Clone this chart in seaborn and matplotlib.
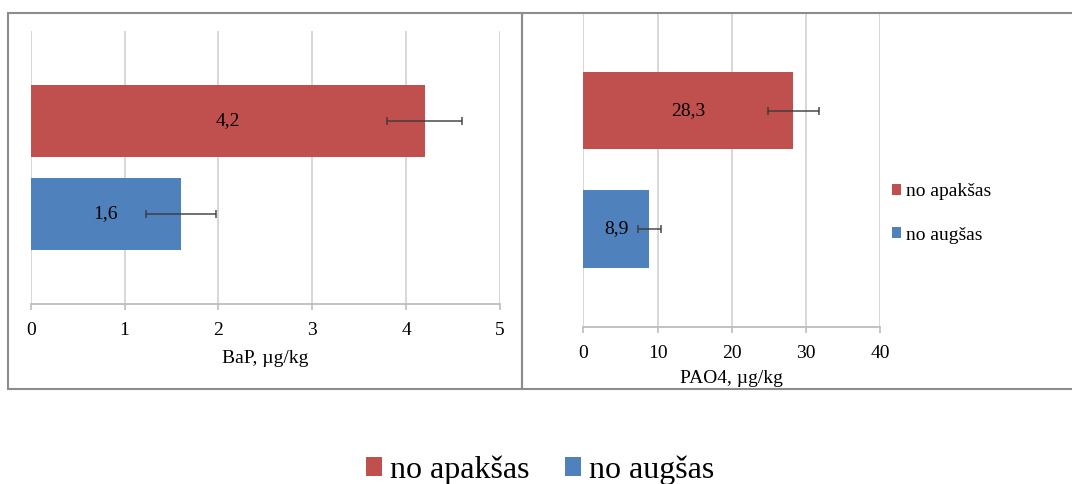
import matplotlib
matplotlib.use("Agg")
import matplotlib.pyplot as plt
from matplotlib.patches import Patch, Rectangle
import seaborn as sns
import pandas as pd

# Sampling position (series) and measured concentrations with error margins
groups = ["no apakšas", "no augšas"]
bap_values = [4.2, 1.6]
bap_errors = [0.4, 0.37]
pao4_values = [28.3, 8.9]
pao4_errors = [3.4, 1.6]
bap_ticks = [0, 1, 2, 3, 4, 5]
pao4_ticks = [0, 10, 20, 30, 40]
bap_label = "BaP, µg/kg"
pao4_label = "PAO4, µg/kg"

colors = {"no apakšas": "#C0504D", "no augšas": "#4F81BD"}

sns.set_theme(style="white")
plt.rcParams["font.family"] = ["Liberation Serif", "DejaVu Serif"]
plt.rcParams["text.color"] = "black"
plt.rcParams["axes.labelcolor"] = "black"
plt.rcParams["xtick.color"] = "black"

W, H = 1072, 484
fig = plt.figure(figsize=(W / 100, H / 100), dpi=100)
fig.patch.set_facecolor("white")


def px_axes(x0, y0, x1, y1):
    """Axes from pixel box (top-left origin)."""
    return fig.add_axes([x0 / W, 1 - y1 / H, (x1 - x0) / W, (y1 - y0) / H])


def draw_panel(ax, values, errors, ticks, xlabel, bar_width, ylim, label_pad):
    df = pd.DataFrame({"grupa": groups, "vertiba": values})
    sns.barplot(data=df, x="vertiba", y="grupa", hue="grupa", palette=colors,
                order=groups, hue_order=groups, orient="h", width=bar_width,
                saturation=1, legend=False, ax=ax, errorbar=None, linewidth=0)
    ax.errorbar(values, list(range(len(groups))), xerr=errors, fmt="none",
                ecolor="#3a3a3a", elinewidth=1.2, capsize=2.8, capthick=1.2,
                alpha=0.85, zorder=4)
    for i, v in enumerate(values):
        ax.text(v / 2, i, f"{v:.1f}".replace(".", ","), ha="center",
                va="center", fontsize=14, color="black", zorder=5)
    ax.set_xlim(ticks[0], ticks[-1])
    ax.set_xticks(ticks)
    ax.set_xticklabels([str(t) for t in ticks], fontsize=14)
    ax.set_ylim(*ylim)
    ax.set_yticks([])
    ax.set_ylabel("")
    ax.set_xlabel(xlabel, fontsize=14, labelpad=label_pad, color="black")
    ax.xaxis.grid(True, color="#D4D4D4", linewidth=1.3)
    ax.set_axisbelow(True)
    for side in ("top", "right", "left"):
        ax.spines[side].set_visible(False)
    ax.spines["bottom"].set_color("#BDBDBD")
    ax.spines["bottom"].set_linewidth(1.3)
    ax.tick_params(axis="x", bottom=True, length=4, width=1.2,
                   color="#BDBDBD", pad=9, labelcolor="black")
    ax.set_facecolor("none")


# Outer frames around the two panels
frame_kw = dict(transform=None, fill=False, edgecolor="#8C8C8C", linewidth=1.5)
fig.patches.append(Rectangle((7.5, H - 389), 514.5, 376, **frame_kw))
fig.patches.append(Rectangle((522, H - 389), 560, 376, **frame_kw))

ax1 = px_axes(30.7, 31, 500, 304)
draw_panel(ax1, bap_values, bap_errors, bap_ticks, bap_label,
           bar_width=0.776, ylim=(1.972, -0.970), label_pad=8)

ax2 = px_axes(583.3, 12.7, 880.3, 326.7)
draw_panel(ax2, pao4_values, pao4_errors, pao4_ticks, pao4_label,
           bar_width=0.656, ylim=(1.828, -0.827), label_pad=6)

handles = [Patch(facecolor=colors[g], edgecolor="none", label=g) for g in groups]

ax2.legend(handles=handles, loc="center left", bbox_to_anchor=(1.006, 0.3605),
           frameon=False, fontsize=14, handlelength=0.45, handleheight=0.45,
           handletextpad=0.3, labelspacing=1.35, borderpad=0)

fig.legend(handles=handles, loc="center", bbox_to_anchor=(540 / W, 1 - 470 / H),
           ncol=2, frameon=False, fontsize=23, handlelength=0.5,
           handleheight=0.5, handletextpad=0.25, columnspacing=1.1,
           borderpad=0)

fig.savefig("out.png", dpi=100, facecolor="white")
